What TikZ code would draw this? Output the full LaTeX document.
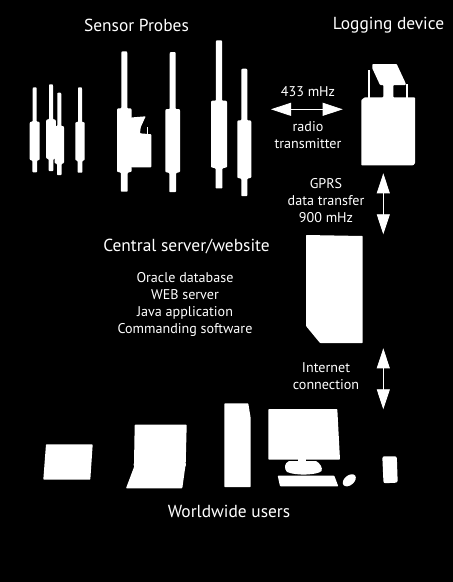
\documentclass[tikz,border=0pt]{standalone}
\usepackage{fontspec}
\setmainfont{PT Sans}
\usetikzlibrary{arrows.meta}
\tikzset{
  shapefill/.style={fill=white,draw=none,rounded corners=0.7pt},
  head/.style={font=\fontsize{17.4}{18}\selectfont,text=white,inner sep=0pt},
  lab/.style={font=\fontsize{14.1}{17}\selectfont,text=white,inner sep=0pt,align=center},
  link/.style={draw=white,line width=0.8pt,{Triangle[length=20pt,width=13pt,fill=white]}-{Triangle[length=20pt,width=13pt,fill=white]}},
}
% cx, antenna top, body top, body bottom, tail bottom, body half, antenna half, tail half
\newcommand{\probeshape}[8]{%
  \fill[shapefill] (#1-#7,#3) -- (#1-#7,#2+1) -- (#1-#7*0.8,#2) -- (#1+#7*0.8,#2) -- (#1+#7,#2+1) -- (#1+#7,#3)
    -- (#1+#6-0.8,#3) -- (#1+#6,#3+1) -- (#1+#6,#4-1) -- (#1+#8,#4) -- (#1+#8,#5) -- (#1-#8,#5) -- (#1-#8,#4)
    -- (#1-#6,#4-1) -- (#1-#6,#3+1) -- (#1-#6+0.8,#3) -- cycle;
}
\begin{document}
\begin{tikzpicture}[x=1pt,y=-1pt]
\fill[black] (0,0) rectangle (453,582);
\useasboundingbox (0,0) rectangle (453,582);
% probes
\probeshape{34.7}{87.3}{121.7}{160.7}{172.3}{5}{2}{2.3}
\probeshape{51}{84.3}{119.3}{159.3}{171}{4.8}{2}{2.3}
\probeshape{59.3}{92.7}{126}{164}{175}{4.7}{2}{2.3}
\probeshape{80}{87.3}{122}{161}{172.7}{4.7}{2}{2.3}
\probeshape{124.3}{51.3}{108.3}{172.7}{191.7}{7.3}{3}{3.4}
\probeshape{172.7}{52}{109}{173}{192}{7.3}{3}{3.4}
\probeshape{219}{40.3}{100.7}{168.3}{188.3}{8}{3.2}{3.4}
\probeshape{244.3}{68.7}{120.3}{178.7}{196}{7}{3}{3}
% small logger on probe
\fill[shapefill] (131,117.5) -- (145.7,116.3) -- (140.7,127.3) -- (140,133.3) -- (151.3,134.3) -- (151.3,167.3) -- (131,167.3) -- cycle;
\fill[white] (146.9,126.7) rectangle (147.7,134.5);
% logging device
\fill[shapefill] (361.3,165.3) -- (361.3,100) -- (364.7,97.3) -- (383.3,97.3) -- (383.3,85) -- (380,85) -- (372.3,68.3) -- (372.3,64) -- (396.7,64) -- (405.7,83.3) -- (405.7,85) -- (393.3,85) -- (393.3,97.3) -- (415,97.3) -- (415,163.3) -- (413.3,165.3) -- cycle;
\fill[white] (368,70) rectangle (370,97.5);
\fill[white] (405.7,84) rectangle (407.7,97.5);
% server
\fill[shapefill] (306,235) -- (362.7,236) -- (362.7,343) -- (320,343) -- (306,326) -- cycle;
% tablet
\fill[shapefill] (46,444.3) -- (92.7,444.3) -- (90.3,479.7) -- (43.3,479.7) -- cycle;
% laptop
\fill[shapefill] (134.7,424.7) -- (186.7,424.7) -- (185.7,463.8) -- (186,465.4) -- (185.4,466) -- (182.3,488.3) -- (126,488.3) -- (134.4,466) -- (133.3,465) -- (134,463.8) -- cycle;
% tower
\fill[shapefill] (224.3,403.3) -- (248.3,403.3) -- (250.7,418.3) -- (250.7,487) -- (224.3,487) -- cycle;
% desktop
\fill[shapefill] (268.3,409) -- (337.3,409) -- (340,459.7) -- (268.3,459.7) -- cycle;
\fill[white] (298.3,459) rectangle (305.7,463);
\fill[white] (289,461) -- (316,461) .. controls (320,463) and (323,468) .. (321.5,471) .. controls (318,475) and (296,476) .. (287,472) .. controls (284,469) and (284,463) .. (289,461) -- cycle;
\fill[shapefill] (277.7,475.7) -- (334.3,475.7) -- (338.3,486.3) -- (280,486.3) -- cycle;
\fill[white,rotate around={40:(349.3,480.3)}] (349.3,480.3) ellipse (7.5 and 4.8);
% phone
\fill[white,rounded corners=2pt] (382.3,456.3) -- (396.8,456.3) -- (397.7,482.6) -- (383.5,483.3) -- cycle;
% labels
\node[head] (sensor) at (136.5,25) {Sensor Probes};
\node[head] (logging) at (388.5,25) {Logging device};
\node[lab] (f433) at (308,92) {433 mHz};
\node[lab] (radio) at (308,135) {radio\\transmitter};
\node[lab] (gprs) at (326,201) {GPRS\\data transfer\\900 mHz};
\node[head] (central) at (186.5,247) {Central server/website};
\node[lab] (soft) at (185,304) {Oracle database\\WEB server\\Java application\\Commanding software};
\node[lab] (inet) at (326,376.5) {Internet\\connection};
\node[head] (users) at (229,511) {Worldwide users};
% connectors
\coordinate (radioL) at (271,109.3);
\coordinate (radioR) at (342.7,109.3);
\coordinate (gprsT) at (383.3,173.3);
\coordinate (gprsB) at (383.3,234.3);
\coordinate (inetT) at (383.3,348.3);
\coordinate (inetB) at (383.3,409.3);
\draw[link] (radioL) -- (radioR);
\draw[link] (gprsT) -- (gprsB);
\draw[link] (inetT) -- (inetB);
\end{tikzpicture}
\end{document}
